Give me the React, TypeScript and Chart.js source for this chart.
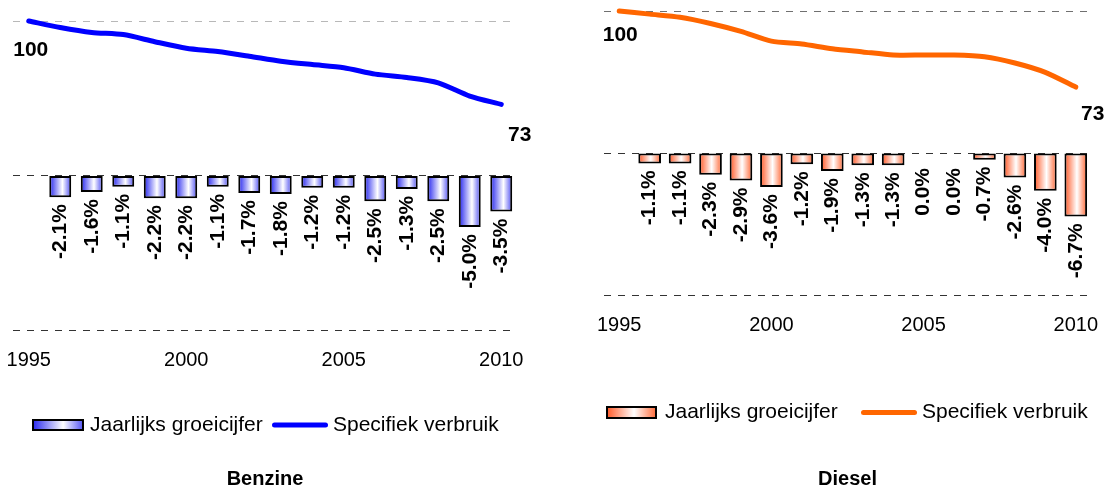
import React, { useEffect, useRef } from 'react';
import { Chart, registerables } from 'chart.js';

Chart.register(...registerables);

// ---------- data ----------
const years = ['1995', '1996', '1997', '1998', '1999', '2000', '2001', '2002', '2003', '2004', '2005', '2006', '2007', '2008', '2009', '2010'];
const tickYears = ['1995', '2000', '2005', '2010'];

const benzineGrowth = [null, -2.1, -1.6, -1.1, -2.2, -2.2, -1.1, -1.7, -1.8, -1.2, -1.2, -2.5, -1.3, -2.5, -5.0, -3.5];
const benzineIndex = [100, 97.9, 96.3, 95.6, 93.3, 91.2, 90.1, 88.6, 87.0, 85.9, 84.9, 82.8, 81.7, 80.0, 75.7, 73.0];

const dieselGrowth = [null, -1.1, -1.1, -2.3, -2.9, -3.6, -1.2, -1.9, -1.3, -1.3, 0.0, 0.0, -0.7, -2.6, -4.0, -6.7];
const dieselIndex = [100, 98.9, 97.8, 95.6, 92.8, 89.4, 88.4, 86.7, 85.6, 84.5, 84.5, 84.5, 83.9, 81.7, 78.4, 73.2];

const seriesLabels = ['Jaarlijks groeicijfer', 'Specifiek verbruik'];
const panelTitles = ['Benzine', 'Diesel'];

// ---------- styling / layout ----------
const FONT = '"Liberation Sans", Arial, Helvetica, sans-serif';
const CAT_PCT = 0.8;

type PanelCfg = {
  title: string;
  growth: (number | null)[];
  index: number[];
  left: number;
  width: number;
  padding: { left: number; right: number; top: number; bottom: number };
  titlePadTop: number;
  lineColor: string;
  stops: [number, string][];
  barPct: number;
  firstOff: [number, number];
  lastOff: [number, number];
  gridTop: string;
  legend: { y: number; barX: number; barW: number; barH: number; textGap: number; lineX: number; lineW: number };
};

const panels: PanelCfg[] = [
  {
    title: panelTitles[0],
    growth: benzineGrowth,
    index: benzineIndex,
    left: 0,
    width: 555,
    padding: { left: 13, right: 38, top: 21, bottom: 0 },
    titlePadTop: 97,
    lineColor: '#0000FF',
    stops: [[0, '#2222EE'], [0.6, '#FFFFFF'], [1, '#4C4CF2']],
    barPct: 0.87,
    firstOff: [2, 29],
    lastOff: [18.5, 30.5],
    gridTop: '#b8b8b8',
    legend: { y: 425, barX: 32, barW: 52, barH: 12, textGap: 6, lineX: 272, lineW: 56 },
  },
  {
    title: panelTitles[1],
    growth: dieselGrowth,
    index: dieselIndex,
    left: 555,
    width: 554,
    padding: { left: 49, right: 18, top: 11, bottom: 0 },
    titlePadTop: 132,
    lineColor: '#FF6600',
    stops: [[0, '#FF5522'], [0.55, '#FFFFFF'], [1, '#FF6633']],
    barPct: 0.93,
    firstOff: [1, 24.5],
    lastOff: [17, 27],
    gridTop: '#707070',
    legend: { y: 412.5, barX: 51, barW: 51, barH: 13, textGap: 8, lineX: 306, lineW: 56 },
  },
];

const X_AXIS_HEIGHT = 42;
const X_TICK_PAD = 18;

function makeGradient(ctx: CanvasRenderingContext2D, x0: number, x1: number, stops: [number, string][]) {
  const g = ctx.createLinearGradient(x0, 0, x1, 0);
  stops.forEach(([o, c]) => g.addColorStop(o, c));
  return g;
}

function Panel({ cfg }: { cfg: PanelCfg }) {
  const ref = useRef<HTMLCanvasElement>(null);

  useEffect(() => {
    const canvas = ref.current;
    if (!canvas) return;

    const labelsPlugin = {
      id: 'valueLabels',
      afterDatasetsDraw(chart: any) {
        const ctx: CanvasRenderingContext2D = chart.ctx;
        const barMeta = chart.getDatasetMeta(0);
        const lineMeta = chart.getDatasetMeta(1);
        ctx.save();
        ctx.fillStyle = '#000';
        ctx.font = `bold 21px ${FONT}`;
        barMeta.data.forEach((el: any, i: number) => {
          const v = cfg.growth[i];
          if (v === null || v === undefined) return;
          const bottom = Math.max(el.y, el.base);
          const extra = v === 0 ? 8 : 0;
          ctx.save();
          ctx.translate(el.x, bottom + 7 + extra);
          ctx.rotate(-Math.PI / 2);
          ctx.textAlign = 'right';
          ctx.textBaseline = 'middle';
          ctx.fillText(v.toFixed(1) + '%', 0, 0);
          ctx.restore();
        });
        const pts = lineMeta.data;
        const first = pts[0];
        const last = pts[pts.length - 1];
        ctx.textAlign = 'center';
        ctx.textBaseline = 'middle';
        ctx.fillText(String(Math.round(cfg.index[0])), first.x + cfg.firstOff[0], first.y + cfg.firstOff[1]);
        ctx.fillText(
          String(Math.round(cfg.index[cfg.index.length - 1])),
          last.x + cfg.lastOff[0],
          last.y + cfg.lastOff[1]
        );
        ctx.restore();
      },
    };

    const legendPlugin = {
      id: 'panelLegend',
      afterDraw(chart: any) {
        const ctx: CanvasRenderingContext2D = chart.ctx;
        const L = cfg.legend;
        const ds = chart.data.datasets;
        ctx.save();
        const top = L.y - L.barH / 2;
        ctx.fillStyle = makeGradient(ctx, L.barX, L.barX + L.barW, cfg.stops);
        ctx.fillRect(L.barX, top, L.barW, L.barH);
        ctx.lineWidth = 2;
        ctx.strokeStyle = '#000';
        ctx.strokeRect(L.barX + 1, top + 1, L.barW - 2, L.barH - 2);
        ctx.font = `21px ${FONT}`;
        ctx.fillStyle = '#000';
        ctx.textAlign = 'left';
        ctx.textBaseline = 'middle';
        ctx.fillText(ds[0].label, L.barX + L.barW + L.textGap, L.y);
        ctx.beginPath();
        ctx.lineWidth = 5;
        ctx.lineCap = 'round';
        ctx.strokeStyle = cfg.lineColor;
        ctx.moveTo(L.lineX + 2.5, L.y);
        ctx.lineTo(L.lineX + L.lineW - 2.5, L.y);
        ctx.stroke();
        ctx.fillStyle = '#000';
        ctx.fillText(ds[1].label, L.lineX + L.lineW + 5, L.y);
        ctx.restore();
      },
    };

    const chart = new Chart(canvas, {
      type: 'bar',
      data: {
        labels: years,
        datasets: [
          {
            type: 'bar',
            label: seriesLabels[0],
            data: cfg.growth as any,
            yAxisID: 'y',
            order: 2,
            categoryPercentage: CAT_PCT,
            barPercentage: cfg.barPct,
            borderColor: '#000',
            borderWidth: 2,
            borderSkipped: false,
            backgroundColor: (c: any) => {
              const chart = c.chart;
              const area = chart.chartArea;
              if (!area || c.type !== 'data' || !chart.scales.x) return cfg.stops[0][1];
              const cx = chart.scales.x.getPixelForValue(c.dataIndex);
              const slot = (area.right - area.left) / years.length;
              const w = slot * CAT_PCT * cfg.barPct;
              return makeGradient(chart.ctx, cx - w / 2, cx + w / 2, cfg.stops);
            },
          } as any,
          {
            type: 'line',
            label: seriesLabels[1],
            data: cfg.index,
            yAxisID: 'y1',
            order: 1,
            borderColor: cfg.lineColor,
            backgroundColor: cfg.lineColor,
            borderWidth: 5,
            pointRadius: 0,
            tension: 0.25,
            fill: false,
            clip: false,
            borderCapStyle: 'round',
            borderJoinStyle: 'round',
          } as any,
        ],
      },
      options: {
        responsive: false,
        animation: false,
        layout: { padding: cfg.padding },
        plugins: {
          legend: { display: false },
          tooltip: { enabled: false },
          title: {
            display: true,
            text: cfg.title,
            position: 'bottom',
            color: '#000',
            font: { family: FONT, size: 20, weight: 'bold', lineHeight: 1 },
            padding: { top: cfg.titlePadTop, bottom: 0 },
          },
        },
        scales: {
          x: {
            type: 'category',
            offset: true,
            grid: { display: false, drawTicks: false, tickLength: 0 },
            border: { display: false },
            afterFit: (scale: any) => {
              scale.paddingLeft = 0;
              scale.paddingRight = 0;
              scale.paddingTop = 0;
              scale.paddingBottom = 0;
              scale.height = X_AXIS_HEIGHT;
            },
            ticks: {
              autoSkip: false,
              maxRotation: 0,
              minRotation: 0,
              padding: X_TICK_PAD,
              color: '#000',
              font: { family: FONT, size: 20 },
              callback: (_v: any, i: number) => (tickYears.indexOf(years[i]) >= 0 ? years[i] : ''),
            },
          },
          y: {
            type: 'linear',
            position: 'left',
            min: -15,
            max: 15,
            ticks: { display: false, stepSize: 15 },
            grid: {
              drawTicks: false,
              tickLength: 0,
              lineWidth: 1,
              color: (c: any) => (c.tick && c.tick.value === 15 ? cfg.gridTop : '#333333'),
            },
            border: { display: false, dash: [7, 7] },
            afterFit: (scale: any) => {
              scale.width = 0;
              scale.paddingTop = 0;
              scale.paddingBottom = 0;
            },
          },
          y1: {
            type: 'linear',
            position: 'right',
            min: 0,
            max: 100,
            display: false,
          },
        },
      } as any,
      plugins: [labelsPlugin, legendPlugin],
    });

    return () => chart.destroy();
  }, [cfg]);

  return (
    <canvas
      ref={ref}
      width={cfg.width}
      height={489}
      style={{ position: 'absolute', left: cfg.left, top: 0, display: 'block' }}
    />
  );
}

export default function App() {
  return (
    <div style={{ position: 'absolute', left: 0, top: 0, width: 1109, height: 489, background: '#fff' }}>
      {panels.map((p) => (
        <Panel key={p.title} cfg={p} />
      ))}
    </div>
  );
}
